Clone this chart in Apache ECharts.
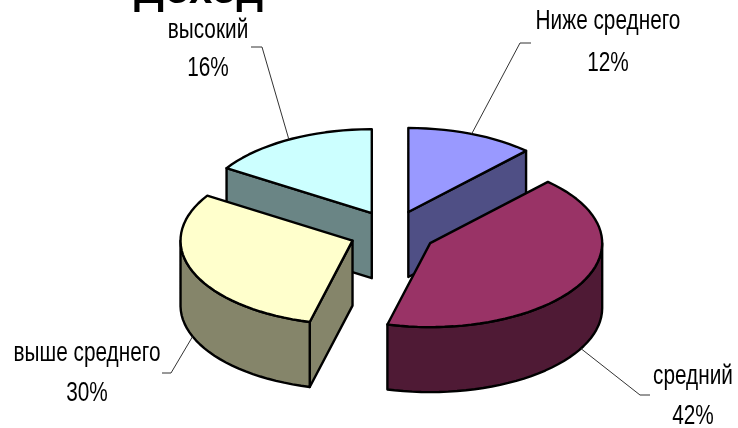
<!DOCTYPE html>
<html><head><meta charset="utf-8">
<style>html,body{margin:0;padding:0;background:#fff}#c{width:738px;height:428px}</style>
<script src="https://cdn.jsdelivr.net/npm/echarts@6/dist/echarts.min.js"></script>
</head><body><div id="c"></div>
<script>
const chartTitle = 'Доход';
const categories = ['Ниже среднего', 'средний', 'выше среднего', 'высокий'];
const shares = [12, 42, 30, 16];
const topColors = ['#9999ff', '#993366', '#ffffcc', '#ccffff'];
const sideColors = ['#4f4f85', '#4f1a35', '#85856a', '#6a8585'];
const drawOrder = [3, 0, 2, 1];
const labelCentres = [[608, 22, 64], [693, 377, 417], [87, 354, 394], [208, 31, 69]];
const leaderElbows = [[520, 43, 531], [640, 395, 650], [171, 373, 162], [262, 47, 251]];
const leaderOnBase = [false, true, true, false];

const cx = 392.5, cy = 232.5, rx = 172, ry = 84, depth = 65, ex = 43, ey = 22;
const total = shares.reduce((a, b) => a + b, 0);
const rad = d => d * Math.PI / 180;
const chart = echarts.init(document.getElementById('c'));

function renderItem(params, api) {
  const i = api.value(0);
  let start = 0;
  for (let k = 0; k < i; k++) start += shares[k];
  const a = start / total * 360, b = (start + api.value(1)) / total * 360, m = (a + b) / 2;
  const ox = cx + ex * Math.sin(rad(m)), oy = cy - ey * Math.cos(rad(m));
  const rim = t => [ox + rx * Math.sin(rad(t)), oy - ry * Math.cos(rad(t))];
  const down = p => [p[0], p[1] + depth];
  const children = [];
  const edge = { stroke: '#000', lineWidth: 2.4, lineJoin: 'round' };
  const face = (pts, fill) => children.push({ type: 'polygon', shape: { points: pts }, style: Object.assign({ fill }, edge) });
  const side = sideColors[i];
  const radial = t => { const r = rim(t); face([[ox, oy], r, down(r), [ox, oy + depth]], side); };
  if (Math.sin(rad(a)) < -1e-6) radial(a);
  if (Math.sin(rad(b)) > 1e-6) radial(b);
  const f0 = Math.max(a, 90), f1 = Math.min(b, 270);
  if (f1 > f0) {
    const up = [];
    for (let t = f0; t < f1; t += 3) up.push(rim(t));
    up.push(rim(f1));
    face(up.concat(up.slice().reverse().map(down)), side);
  }
  const top = [[ox, oy]];
  for (let t = a; t < b; t += 3) top.push(rim(t));
  top.push(rim(b));
  face(top, topColors[i]);

  let anchor = rim(m);
  if (leaderOnBase[i]) anchor = down(anchor);
  const el = leaderElbows[i];
  children.push({ type: 'polyline', shape: { points: [anchor, [el[0], el[1]], [el[2], el[1]]] }, style: { stroke: '#333', lineWidth: 1, fill: null } });
  const lc = labelCentres[i];
  const font = '27px "Liberation Sans", sans-serif';
  const txt = (s, y) => children.push({ type: 'text', x: lc[0], y, scaleX: 0.77, style: { text: s, x: 0, y: 0, align: 'center', verticalAlign: 'middle', font, fill: '#000' } });
  txt(categories[i], lc[1]);
  txt(api.value(1) + '%', lc[2]);
  return { type: 'group', children };
}

chart.setOption({
  animation: false,
  backgroundColor: '#fff',
  title: { text: chartTitle, left: 129, top: -35, textStyle: { fontFamily: 'Liberation Sans', fontWeight: 'bold', fontSize: 42, color: '#000' } },
  series: [{
    type: 'custom',
    coordinateSystem: 'none',
    renderItem,
    silent: true,
    data: drawOrder.map(i => [i, shares[i]])
  }]
});
</script></body></html>
